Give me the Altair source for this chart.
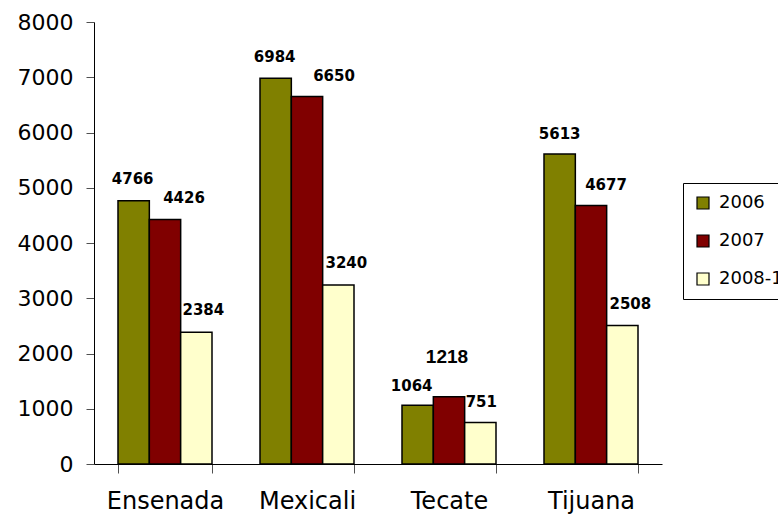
import altair as alt
import pandas as pd

# Municipal figures by year
municipios = ["Ensenada", "Mexicali", "Tecate", "Tijuana"]
periodos = ["2006", "2007", "2008-1"]
valores_2006 = [4766, 6984, 1064, 5613]
valores_2007 = [4426, 6650, 1218, 4677]
valores_2008 = [2384, 3240, 751, 2508]

colores = ["#808000", "#800000", "#FFFFCC"]

rows = []
for serie, vals in zip(periodos, [valores_2006, valores_2007, valores_2008]):
    for m, v in zip(municipios, vals):
        rows.append({"municipio": m, "periodo": serie, "valor": v})
df = pd.DataFrame(rows)

AXIS_FONT = "DejaVu Sans"

x_enc = alt.X(
    "municipio:N",
    sort=municipios,
    title=None,
    scale=alt.Scale(paddingInner=0.338, paddingOuter=0.169),
    axis=alt.Axis(
        labelAngle=0,
        labelFont=AXIS_FONT,
        labelFontSize=24,
        labelColor="#000000",
        labelPadding=16,
        tickBand="extent",
        tickSize=9,
        tickColor="#505050",
        domainColor="#000000",
        grid=False,
    ),
)
y_enc = alt.Y(
    "valor:Q",
    title=None,
    scale=alt.Scale(domain=[0, 8000], nice=False),
    axis=alt.Axis(
        values=list(range(0, 8001, 1000)),
        format="d",
        labelFont=AXIS_FONT,
        labelFontSize=22,
        labelColor="#000000",
        labelPadding=13,
        tickSize=8,
        tickColor="#505050",
        domainColor="#000000",
        grid=False,
    ),
)
xoff = alt.XOffset("periodo:N", sort=periodos, scale=alt.Scale(paddingInner=0, paddingOuter=0))

bars = alt.Chart(df).mark_bar(stroke="#000000", strokeWidth=1.5).encode(
    x=x_enc,
    xOffset=xoff,
    y=y_enc,
    color=alt.Color(
        "periodo:N",
        sort=periodos,
        scale=alt.Scale(domain=periodos, range=colores),
        legend=alt.Legend(
            title=None,
            orient="none",
            legendX=589,
            legendY=161,
            symbolType="square",
            symbolSize=144,
            symbolStrokeColor="#000000",
            symbolStrokeWidth=1.2,
            labelFont=AXIS_FONT,
            labelFontSize=18,
            labelColor="#000000",
            rowPadding=20,
            padding=11,
            strokeColor="#000000",
            fillColor="#FFFFFF",
            labelOffset=7,
        ),
    ),
)

# value labels: (dx, dy) nudge of each label from the top centre of its bar
nudges = {
    ("Ensenada", "2006"): (-1, -22),
    ("Ensenada", "2007"): (19, -21),
    ("Ensenada", "2008-1"): (7, -22),
    ("Mexicali", "2006"): (-1, -21),
    ("Mexicali", "2007"): (27, -21),
    ("Mexicali", "2008-1"): (8, -22),
    ("Tecate", "2006"): (-6, -19),
    ("Tecate", "2007"): (-2, -40),
    ("Tecate", "2008-1"): (1, -21),
    ("Tijuana", "2006"): (0, -20),
    ("Tijuana", "2007"): (15, -21),
    ("Tijuana", "2008-1"): (8, -21),
}

layers = [bars]
for (mun, serie), (dx, dy) in nudges.items():
    compact = (mun, serie) == ("Tecate", "2007")
    layers.append(
        alt.Chart(df)
        .transform_filter((alt.datum.municipio == mun) & (alt.datum.periodo == serie))
        .mark_text(
            font="Liberation Sans" if compact else "DejaVu Sans",
            fontWeight="bold",
            fontSize=19 if compact else 15,
            color="#000000",
            baseline="middle",
            dx=dx,
            dy=dy,
        )
        .encode(
            x=alt.X("municipio:N", sort=municipios),
            xOffset=alt.XOffset("periodo:N", sort=periodos),
            y=alt.Y("valor:Q"),
            text=alt.Text("valor:Q", format="d"),
        )
    )

chart = (
    alt.layer(*layers)
    .properties(
        width=568,
        height=442,
        autosize=alt.AutoSizeParams(type="none"),
        padding={"left": 94, "top": 22, "right": 116, "bottom": 57},
        view=alt.ViewBackground(stroke="transparent", strokeWidth=0),
    )
    .configure_view(stroke="transparent", strokeWidth=0, strokeOpacity=0)
    .configure(background="#FFFFFF")
)

chart.save("out.html", embed_options={"renderer": "svg", "actions": False})
